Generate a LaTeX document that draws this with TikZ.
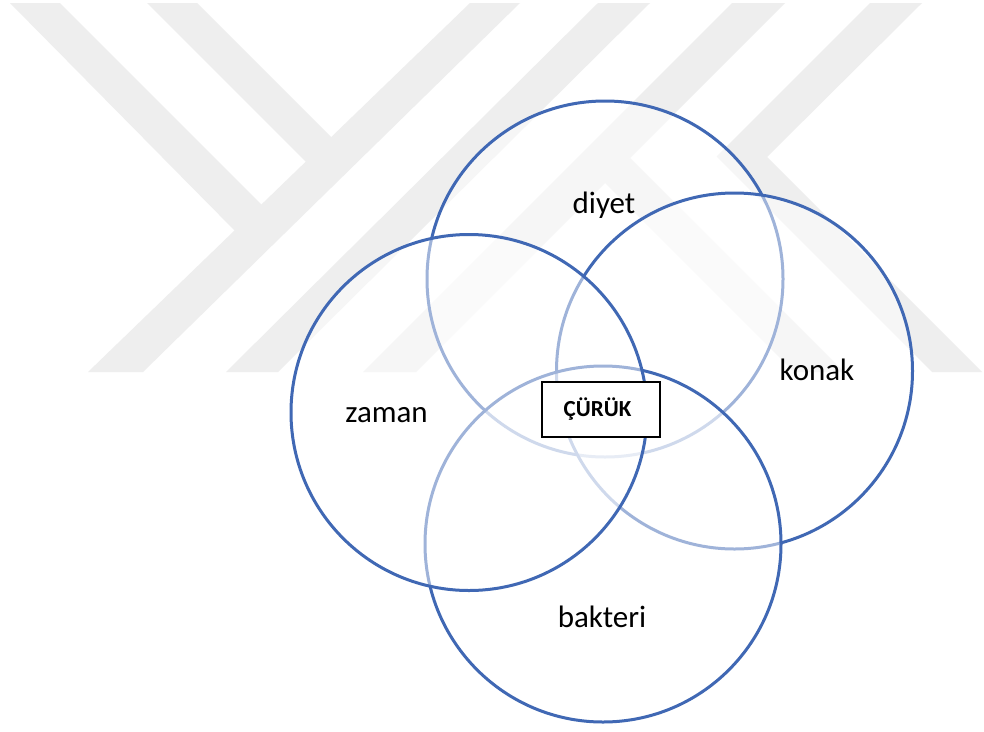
\documentclass[tikz,border=0pt]{standalone}
\usepackage{fontspec}
\setmainfont{Carlito}
\definecolor{wm}{HTML}{EEEEEE}
\definecolor{vennblue}{RGB}{64,104,180}
\begin{document}
\begin{tikzpicture}[x=1pt,y=-1pt,
  wmark/.style={fill=wm, draw=none},
  venn/.style={circle, draw=vennblue, line width=3pt, fill=white, fill opacity=0.5, draw opacity=1, minimum size=356pt, inner sep=0pt},
  lbl/.style={font=\fontsize{31}{37}\selectfont, anchor=base, inner sep=0pt, text=black},
  corebox/.style={draw=black, line width=1.3pt, fill=white, minimum width=118pt, minimum height=55pt, inner sep=0pt},
  coretext/.style={font=\bfseries\fontsize{23}{28}\selectfont, anchor=base, inner sep=0pt, text=black}]
\useasboundingbox (0,0) rectangle (984,731);
\fill[white] (0,0) rectangle (984,731);
% watermark
\fill[wmark] (470,3) -- (520,3) -- (143,372) -- (88,372) -- cycle;
\fill[wmark] (598,3) -- (650,3) -- (278,372) -- (226,372) -- cycle;
\fill[wmark] (732,3) -- (785,3) -- (416,372) -- (363,372) -- cycle;
\fill[wmark] (10,3) -- (60,3) -- (272,215) -- (238,234) -- cycle;
\fill[wmark] (147,3) -- (197,3) -- (340,146) -- (315,171) -- cycle;
\fill[wmark] (870,3) -- (922,3) -- (767,157) -- (982,372) -- (932,372) -- (716.5,156.5) -- cycle;
\fill[wmark] (630,158) -- (844,372) -- (794,372) -- (600,178) -- cycle;
% circles
\node[venn] (diyet) at (605,279) {};
\node[venn] (konak) at (734.5,371) {};
\node[venn] (bakteri) at (603,544) {};
\node[venn] (zaman) at (469,412.5) {};
% labels
\node[lbl] (tdiyet) at (604,213.5) {diyet};
\node[lbl] (tkonak) at (817,380) {konak};
\node[lbl] (tzaman) at (386.5,422.5) {zaman};
\node[lbl] (tbakteri) at (602,627) {bakteri};
% centre box
\node[corebox] (curuk) at (601,409.5) {};
\node[coretext] (curuktxt) at (597.5,416.7) {ÇÜRÜK};
\end{tikzpicture}
\end{document}
